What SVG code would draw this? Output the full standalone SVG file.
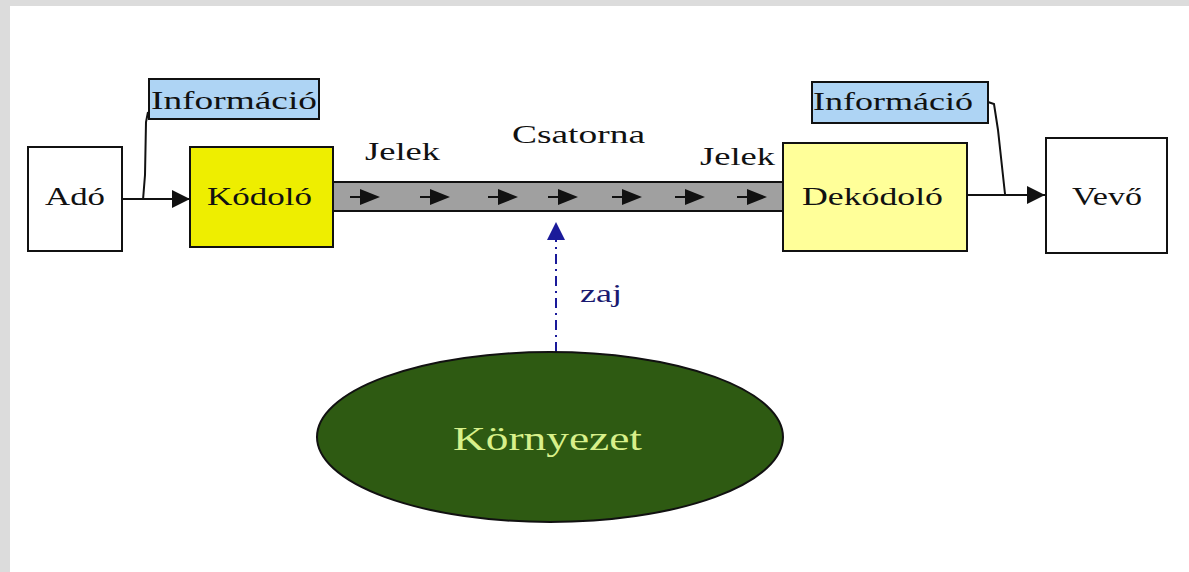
<svg xmlns="http://www.w3.org/2000/svg" width="1189" height="572" viewBox="0 0 1189 572">
<style>
.t{font-family:"Liberation Serif","DejaVu Serif",serif;font-size:26px;fill:#111}
.box{stroke:#111;stroke-width:2}
.ln{stroke:#111;stroke-width:2;fill:none}
</style>
<defs>
<marker id="ah" viewBox="0 0 10 10" refX="10" refY="5" markerWidth="18" markerHeight="18" markerUnits="userSpaceOnUse" orient="auto"><path d="M0,0L10,5L0,10z" fill="#111"/></marker>
<marker id="ahb" viewBox="0 0 10 10" refX="10" refY="5" markerWidth="18" markerHeight="18" markerUnits="userSpaceOnUse" orient="auto"><path d="M0,0L10,5L0,10z" fill="#1a1a9a"/></marker>
<g id="sa"><path d="M-16,0H-4" stroke="#111" stroke-width="2"/><path d="M-6,-8L14,0L-6,8z" fill="#111"/></g>
</defs>
<rect width="1189" height="572" fill="#fff"/>
<rect x="0" y="0" width="1189" height="6" fill="#dcdcdc"/>
<rect x="0" y="0" width="10" height="572" fill="#dcdcdc"/>

<g id="connectors">
<path class="ln" d="M122,199H190" marker-end="url(#ah)"/>
<path class="ln" d="M967,195H1045" marker-end="url(#ah)"/>
<polyline class="ln" points="148,112 146,122 145,175 143,200"/>
<polyline class="ln" points="988,102 994,104 998,130 1005,194"/>
<path d="M556,352V222" stroke="#1a1a9a" stroke-width="2" stroke-dasharray="10,5,2,5" fill="none" marker-end="url(#ahb)"/>
<text x="580" y="302" class="t" style="fill:#1a1a70" textLength="42" lengthAdjust="spacingAndGlyphs">zaj</text>
</g>

<g id="ado"><rect class="box" x="28" y="147" width="94" height="104" fill="#fff"/><text class="t" x="45" y="205" textLength="60" lengthAdjust="spacingAndGlyphs">Adó</text></g>
<g id="info1"><rect class="box" x="149" y="79" width="170" height="40" fill="#aed4f4"/><text class="t" x="151" y="109" textLength="166" lengthAdjust="spacingAndGlyphs">Információ</text></g>
<g id="kodolo"><rect class="box" x="190" y="147" width="143" height="100" fill="#eeee00"/><text class="t" x="207" y="205" textLength="105" lengthAdjust="spacingAndGlyphs">Kódoló</text></g>
<g id="csatorna">
<rect class="box" x="333" y="182" width="450" height="29" fill="#a0a0a0"/>
<use href="#sa" x="366" y="197"/><use href="#sa" x="436" y="197"/><use href="#sa" x="504" y="197"/><use href="#sa" x="564" y="197"/><use href="#sa" x="628" y="197"/><use href="#sa" x="691" y="197"/><use href="#sa" x="753" y="197"/>
<text class="t" x="512" y="143" textLength="133" lengthAdjust="spacingAndGlyphs">Csatorna</text>
<text class="t" x="365" y="160" textLength="75" lengthAdjust="spacingAndGlyphs">Jelek</text>
<text class="t" x="700" y="165" textLength="75" lengthAdjust="spacingAndGlyphs">Jelek</text>
</g>
<g id="dekodolo"><rect class="box" x="783" y="143" width="184" height="108" fill="#ffff99"/><text class="t" x="802" y="205" textLength="141" lengthAdjust="spacingAndGlyphs">Dekódoló</text></g>
<g id="info2"><rect class="box" x="812" y="82" width="176" height="41" fill="#aed4f4"/><text class="t" x="813" y="110" textLength="160" lengthAdjust="spacingAndGlyphs">Információ</text></g>
<g id="vevo"><rect class="box" x="1046" y="138" width="121" height="115" fill="#fff"/><text class="t" x="1072" y="205" textLength="70" lengthAdjust="spacingAndGlyphs">Vevő</text></g>
<g id="kornyezet"><ellipse class="box" cx="550" cy="437" rx="233" ry="85" fill="#2e5a12"/><text class="t" x="453" y="450" style="font-size:34px;fill:#d8f08a" textLength="189" lengthAdjust="spacingAndGlyphs">Környezet</text></g>
</svg>
